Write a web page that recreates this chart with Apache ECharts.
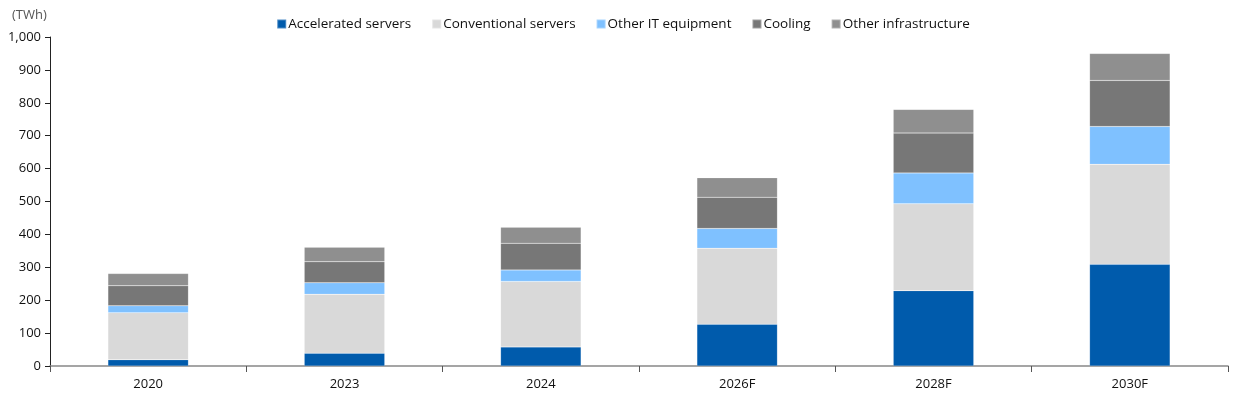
<!DOCTYPE html>
<html>
<head>
<meta charset="utf-8">
<script src="https://cdn.jsdelivr.net/npm/echarts@6/dist/echarts.min.js"></script>
<style>
  html, body { margin: 0; padding: 0; background: #fff; }
  #chart { width: 1246px; height: 396px; }
</style>
</head>
<body>
<div id="chart"></div>
<script>
// data (TWh)
var years = ["2020", "2023", "2024", "2026F", "2028F", "2030F"];
var accelerated = [19, 39, 58, 127, 229, 309];
var conventional = [143, 179, 199, 231, 264, 304];
var otherIT = [21, 35, 35, 60, 94, 115];
var cooling = [61, 64, 81, 95, 121, 140];
var otherInfra = [37, 44, 49, 59, 72, 82];

var seriesNames = ["Accelerated servers", "Conventional servers", "Other IT equipment", "Cooling", "Other infrastructure"];
var seriesColors = ["#005bac", "#d9d9d9", "#7fc1ff", "#777777", "#8f8f8f"];
var seriesData = [accelerated, conventional, otherIT, cooling, otherInfra];

var chart = echarts.init(document.getElementById("chart"));

var option = {
  animation: false,
  textStyle: { fontFamily: "Open Sans, Noto Sans, sans-serif" },
  title: {
    text: "(TWh)",
    left: 7,
    top: 4,
    textStyle: { fontSize: 13, fontWeight: "normal", color: "#555" }
  },
  legend: {
    data: seriesNames,
    top: 12,
    left: "center",
    itemWidth: 9,
    itemHeight: 9,
    itemGap: 20,
    icon: "rect",
    textStyle: { fontSize: 13.5, color: "#111", padding: [0, 0, 0, -3] }
  },
  grid: {
    left: 50,
    right: 18,
    top: 37,
    bottom: 30
  },
  xAxis: {
    type: "category",
    data: years,
    axisLine: { lineStyle: { color: "#888", width: 1.5 } },
    axisTick: { show: true, alignWithLabel: false, length: 6, lineStyle: { color: "#555" } },
    axisLabel: { fontSize: 13, color: "#111", margin: 12 }
  },
  yAxis: {
    type: "value",
    min: 0,
    max: 1000,
    interval: 100,
    splitLine: { show: false },
    axisLine: { show: true, lineStyle: { color: "#222" } },
    axisTick: { show: true, length: 5, lineStyle: { color: "#222" } },
    axisLabel: {
      fontSize: 13,
      color: "#111",
      margin: 9,
      formatter: function (v) { return v.toLocaleString("en-US"); }
    }
  },
  series: seriesData.map(function (d, i) {
    return {
      name: seriesNames[i],
      type: "bar",
      stack: "total",
      barWidth: "41%",
      data: d,
      itemStyle: {
        color: seriesColors[i],
        borderColor: "rgba(255,255,255,0.3)",
        borderWidth: 0.5
      }
    };
  })
};

chart.setOption(option);
</script>
</body>
</html>
